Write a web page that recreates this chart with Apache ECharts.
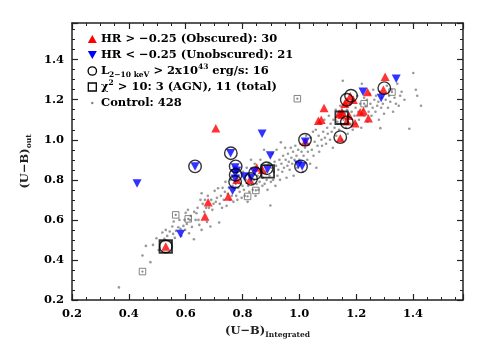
<!DOCTYPE html>
<html>
<head>
<meta charset="utf-8">
<script src="https://cdn.jsdelivr.net/npm/echarts@6/dist/echarts.min.js"></script>
<style>
  html, body { margin: 0; padding: 0; background: #fff; }
  #chart { width: 485px; height: 346px; }
</style>
</head>
<body>
<div id="chart"></div>
<script>
// tick labels
const xTickLabels = ['0.2', '0.4', '0.6', '0.8', '1.0', '1.2', '1.4'];
const yTickLabels = ['0.2', '0.4', '0.6', '0.8', '1.0', '1.2', '1.4'];

// HR > -0.25 (obscured), [U-B integrated, U-B out]
const obscured = [
    [0.706, 1.058], [1.302, 1.315], [1.296, 1.25], [1.24, 1.238], [1.179, 1.217],
    [1.167, 1.192], [1.087, 1.158], [1.067, 1.095], [1.077, 1.1], [1.15, 1.125],
    [1.14, 1.13], [1.167, 1.092], [1.196, 1.083], [1.214, 1.137], [1.226, 1.142],
    [1.243, 1.108], [1.144, 1.008], [1.021, 0.99], [0.85, 0.862], [0.78, 0.8],
    [0.826, 0.8], [0.75, 0.717], [0.679, 0.688], [0.668, 0.617], [0.53, 0.467],
    [1.16, 1.18], [1.175, 1.12], [0.87, 0.85], [1.19, 1.2], [1.15, 1.14]
];
// HR < -0.25 (unobscured)
const unobscured = [
    [0.429, 0.782], [0.582, 0.53], [0.633, 0.867], [0.758, 0.933], [0.869, 1.03],
    [0.898, 0.922], [0.774, 0.862], [0.774, 0.833], [0.774, 0.805], [0.806, 0.817],
    [0.765, 0.745], [0.842, 0.84], [0.888, 0.852], [0.997, 0.875], [1.01, 0.868],
    [1.021, 0.99], [1.224, 1.24], [1.288, 1.208], [1.341, 1.305], [0.83, 0.81],
    [0.78, 0.845]
];
// L(2-10 keV) > 2e43 erg/s
const luminous = [
    [0.633, 0.867], [0.759, 0.933], [0.776, 0.867], [0.776, 0.825], [0.774, 0.79],
    [0.83, 0.805], [0.844, 0.833], [0.885, 0.858], [1.006, 0.867], [1.02, 1.0],
    [1.144, 1.013], [1.167, 1.087], [1.167, 1.2], [1.182, 1.22], [1.299, 1.258],
    [0.53, 0.467]
];
// chi2 > 10, AGN
const chiAgn = [[0.53, 0.467], [0.889, 0.842], [1.149, 1.11]];
// chi2 > 10, control
const chiControl = [
    [0.448, 0.342], [0.565, 0.625], [0.609, 0.605], [0.818, 0.717],
    [0.847, 0.747], [0.993, 1.205], [1.228, 1.18], [1.326, 1.238]
];
// control sample
const control = [
    [0.365, 0.263], [0.448, 0.422], [0.476, 0.389], [0.485, 0.475], [0.497, 0.508], [0.46, 0.47],
    [0.505, 0.45], [0.512, 0.49], [0.518, 0.537], [0.525, 0.505],
    [0.53, 0.55], [0.535, 0.52], [0.544, 0.542], [0.548, 0.49], [0.553, 0.567], [0.556, 0.53],
    [0.558, 0.592], [0.562, 0.51], [0.566, 0.545], [0.574, 0.563], [0.578, 0.6], [0.582, 0.555],
    [0.585, 0.52], [0.592, 0.57], [0.596, 0.6], [0.598, 0.55], [0.6, 0.635], [0.604, 0.58],
    [0.608, 0.65], [0.612, 0.533], [0.615, 0.6], [0.618, 0.62], [0.622, 0.565], [0.629, 0.503],
    [0.63, 0.64], [0.635, 0.6], [0.638, 0.633], [0.642, 0.66], [0.645, 0.6], [0.648, 0.575],
    [0.652, 0.7], [0.656, 0.733], [0.656, 0.55], [0.66, 0.68], [0.665, 0.64], [0.668, 0.7],
    [0.672, 0.66], [0.675, 0.59], [0.678, 0.72], [0.682, 0.66], [0.687, 0.567], [0.69, 0.7],
    [0.694, 0.65], [0.698, 0.68],
    [0.702, 0.745], [0.706, 0.69], [0.71, 0.71], [0.714, 0.758], [0.718, 0.587], [0.72, 0.68],
    [0.724, 0.72], [0.728, 0.66], [0.73, 0.76], [0.734, 0.7], [0.738, 0.74], [0.74, 0.79],
    [0.744, 0.67], [0.748, 0.73], [0.752, 0.76], [0.756, 0.7], [0.758, 0.8], [0.762, 0.72],
    [0.765, 0.77], [0.768, 0.69], [0.772, 0.75], [0.776, 0.78], [0.778, 0.72], [0.782, 0.7],
    [0.785, 0.76], [0.788, 0.82], [0.79, 0.74], [0.794, 0.78], [0.797, 0.71], [0.8, 0.77],
    [0.802, 0.84], [0.805, 0.75], [0.808, 0.72], [0.812, 0.8], [0.815, 0.86], [0.818, 0.69],
    [0.82, 0.77], [0.824, 0.74], [0.827, 0.82], [0.83, 0.9], [0.833, 0.78], [0.836, 0.75],
    [0.84, 0.8], [0.843, 0.88], [0.846, 0.72], [0.85, 0.78], [0.853, 0.82], [0.856, 0.75],
    [0.86, 0.79], [0.863, 0.9], [0.866, 0.84], [0.87, 0.77], [0.872, 0.81], [0.876, 0.95],
    [0.878, 0.78], [0.882, 0.84], [0.885, 0.8], [0.888, 0.75], [0.892, 0.88], [0.895, 0.82],
    [0.898, 0.672], [0.9, 0.79],
    [0.902, 0.86], [0.905, 0.93], [0.908, 0.8], [0.91, 0.84], [0.913, 0.89], [0.916, 0.77],
    [0.918, 0.87], [0.92, 0.95], [0.923, 0.82], [0.926, 0.85], [0.93, 0.9], [0.932, 0.8],
    [0.935, 0.987], [0.937, 0.88], [0.94, 0.84], [0.943, 0.92], [0.946, 0.86], [0.95, 0.96],
    [0.952, 0.9], [0.955, 0.81], [0.958, 0.87], [0.96, 0.93], [0.963, 0.89], [0.966, 0.85],
    [0.97, 0.96], [0.972, 0.91], [0.975, 0.88], [0.978, 0.94], [0.98, 0.82], [0.983, 0.9],
    [0.986, 0.97], [0.99, 0.92], [0.993, 0.86], [0.996, 0.95],
    [1.0, 0.9], [1.004, 0.98], [1.008, 0.94], [1.012, 0.84], [1.015, 0.92], [1.02, 0.96],
    [1.024, 1.02], [1.028, 0.9], [1.03, 0.94], [1.034, 0.98], [1.038, 0.88], [1.04, 1.01],
    [1.044, 0.95], [1.048, 1.04], [1.05, 0.92], [1.054, 0.99], [1.058, 1.05], [1.06, 0.86],
    [1.064, 0.97], [1.068, 1.02], [1.07, 0.94], [1.074, 1.08], [1.078, 1.0], [1.08, 0.97],
    [1.084, 1.04], [1.088, 1.1], [1.09, 1.01], [1.094, 0.98], [1.098, 1.06],
    [1.1, 1.03], [1.104, 1.12], [1.108, 1.0], [1.11, 1.08], [1.114, 1.04], [1.118, 0.96],
    [1.12, 1.1], [1.124, 1.06], [1.128, 1.15], [1.13, 1.02], [1.134, 1.09], [1.138, 1.12],
    [1.14, 1.05], [1.144, 1.17], [1.148, 1.08], [1.15, 1.0], [1.153, 1.295], [1.156, 1.1],
    [1.16, 1.13], [1.164, 1.06], [1.168, 1.15], [1.17, 1.03], [1.174, 1.11], [1.178, 1.18],
    [1.18, 1.08], [1.184, 1.14], [1.188, 1.05], [1.19, 1.2], [1.194, 1.12], [1.198, 1.16],
    [1.2, 1.08], [1.204, 1.22], [1.208, 1.14], [1.21, 1.1], [1.214, 1.18], [1.218, 1.06],
    [1.22, 1.28], [1.224, 1.15], [1.228, 1.21], [1.23, 1.12], [1.234, 1.17], [1.238, 1.2],
    [1.24, 1.09], [1.244, 1.14], [1.248, 1.23], [1.25, 1.18], [1.254, 1.12], [1.258, 1.16],
    [1.26, 1.25], [1.264, 1.2], [1.268, 1.14], [1.27, 1.22], [1.274, 1.17], [1.278, 1.19],
    [1.28, 1.1], [1.284, 1.24], [1.285, 1.058], [1.288, 1.16], [1.29, 1.21], [1.294, 1.18],
    [1.298, 1.13], [1.3, 1.23],
    [1.304, 1.2], [1.308, 1.27], [1.312, 1.16], [1.316, 1.22], [1.32, 1.19], [1.325, 1.25],
    [1.33, 1.14], [1.335, 1.21], [1.34, 1.18], [1.345, 1.28], [1.35, 1.17], [1.355, 1.22],
    [1.36, 1.24], [1.37, 1.2], [1.387, 1.055], [1.401, 1.333], [1.41, 1.25], [1.415, 1.22],
    [1.428, 1.17]
];

const FONT = 'DejaVu Serif';
const baseText = { fontFamily: FONT, fontWeight: 'bold', fontSize: 11.5, color: '#000' };
const richSub = {
    n: { fontFamily: FONT, fontWeight: 'bold', fontSize: 11.5, lineHeight: 16 },
    sub: { fontFamily: FONT, fontWeight: 'bold', fontSize: 7.5, verticalAlign: 'bottom' },
    sup: { fontFamily: FONT, fontWeight: 'bold', fontSize: 7.5, verticalAlign: 'top' },
};

function axisCommon(show, labels) {
    return {
        type: 'value',
        min: 0.2,
        interval: 0.2,
        splitLine: { show: false },
        axisLine: { show: true, onZero: false, lineStyle: { color: '#222', width: 1.5 } },
        axisTick: { show: true, inside: true, length: 6, lineStyle: { color: '#222', width: 1.2 } },
        minorTick: { show: true, splitNumber: 4, length: 3, lineStyle: { color: '#222', width: 1 } },
        axisLabel: {
            show: show,
            showMaxLabel: false,
            ...baseText,
            formatter: (v) => {
                const s = v.toFixed(1);
                return labels.includes(s) ? s : '';
            },
        },
    };
}

const legendRows = [
    { y: 39, text: 'HR > −0.25 (Obscured): 30' },
    { y: 55, text: 'HR < −0.25 (Unobscured): 21' },
    { y: 71, text: 'L{sub|2−10 keV} > 2x10{sup|43} erg/s: 16' },
    { y: 87, text: 'χ{sup|2} > 10: 3 (AGN), 11 (total)' },
    { y: 103, text: 'Control: 428' },
];
const ix = 92.3;
const legendGraphic = [
    { type: 'polygon', shape: { points: [[ix - 4.5, 43], [ix + 4.5, 43], [ix, 35]] }, style: { fill: '#ff0000' } },
    { type: 'polygon', shape: { points: [[ix - 4.5, 51], [ix + 4.5, 51], [ix, 59]] }, style: { fill: '#0000ff' } },
    { type: 'circle', shape: { cx: ix, cy: 71, r: 4.2 }, style: { fill: 'none', stroke: '#000', lineWidth: 1.3 } },
    { type: 'rect', shape: { x: ix - 4, y: 83, width: 8, height: 8 }, style: { fill: 'none', stroke: '#000', lineWidth: 1.3 } },
    { type: 'circle', shape: { cx: ix, cy: 103, r: 1.2 }, style: { fill: '#808080' } },
].concat(legendRows.map((r) => ({
    type: 'text',
    x: 101,
    y: r.y,
    style: {
        text: r.text.split(/(\{[a-z]+\|[^}]*\})/).map((p) => (p.startsWith('{') ? p : (p ? '{n|' + p + '}' : ''))).join(''),
        rich: richSub,
        fill: '#000',
        verticalAlign: 'middle',
        align: 'left',
    },
})));

const chart = echarts.init(document.getElementById('chart'), null, { renderer: 'canvas' });
const option = {
    animation: false,
    backgroundColor: '#fff',
    grid: { left: 72, right: 22, top: 23, bottom: 46 },
    xAxis: [
        Object.assign(axisCommon(true, xTickLabels), {
            max: 1.576,
            position: 'bottom',
            name: '{n|(U−B)}{sub|Integrated}',
            nameLocation: 'middle',
            nameGap: 17,
            nameTextStyle: { rich: richSub },
        }),
        Object.assign(axisCommon(false, xTickLabels), { max: 1.576, position: 'top' }),
    ],
    yAxis: [
        Object.assign(axisCommon(true, yTickLabels), {
            max: 1.583,
            position: 'left',
            name: '{n|(U−B)}{sub|out}',
            nameLocation: 'middle',
            nameGap: 27,
            nameTextStyle: { rich: richSub },
        }),
        Object.assign(axisCommon(false, yTickLabels), { max: 1.583, position: 'right' }),
    ],
    graphic: legendGraphic,
    series: [
        {
            name: 'Control', type: 'scatter', data: control, symbol: 'circle', symbolSize: 2.6,
            itemStyle: { color: '#808080' }, z: 1,
        },
        {
            name: 'Control chi2', type: 'scatter', data: chiControl, symbol: 'rect', symbolSize: 6.5,
            itemStyle: { color: 'rgba(0,0,0,0)', borderColor: '#666', borderWidth: 1 }, z: 2,
        },
        {
            name: 'Control chi2 dot', type: 'scatter', data: chiControl, symbol: 'circle', symbolSize: 2.2,
            itemStyle: { color: '#666' }, z: 2,
        },
        {
            name: 'Obscured', type: 'scatter', data: obscured, symbol: 'triangle', symbolSize: [9, 8.5],
            itemStyle: { color: '#ff0000' }, z: 3,
        },
        {
            name: 'Unobscured', type: 'scatter', data: unobscured, symbol: 'triangle', symbolRotate: 180,
            symbolSize: [9, 8.5], itemStyle: { color: '#0000ff' }, z: 4,
        },
        {
            name: 'L2-10', type: 'scatter', data: luminous, symbol: 'circle', symbolSize: 12.5,
            itemStyle: { color: 'rgba(0,0,0,0)', borderColor: '#000', borderWidth: 1.4 }, z: 5,
        },
        {
            name: 'chi2 AGN', type: 'scatter', data: chiAgn, symbol: 'rect', symbolSize: 12.5,
            itemStyle: { color: 'rgba(0,0,0,0)', borderColor: '#000', borderWidth: 1.8 }, z: 5,
        },
    ],
};
chart.setOption(option);
</script>
</body>
</html>
